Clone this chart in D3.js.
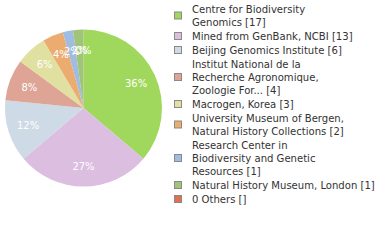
<!DOCTYPE html>
<html>
<head>
<meta charset="utf-8">
<script src="https://cdn.jsdelivr.net/npm/d3@7"></script>
<style>
  body { margin: 0; background: #fff; }
  text { font-family: "DejaVu Sans Condensed", "DejaVu Sans", sans-serif; }
</style>
</head>
<body>
<script>
var names = [
  "Centre for Biodiversity Genomics",
  "Mined from GenBank, NCBI",
  "Beijing Genomics Institute",
  "Institut National de la Recherche Agronomique, Zoologie For...",
  "Macrogen, Korea",
  "University Museum of Bergen, Natural History Collections",
  "Research Center in Biodiversity and Genetic Resources",
  "Natural History Museum, London",
  "0 Others"
];
var counts = [17, 13, 6, 4, 3, 2, 1, 1, 0];
var countLabels = ["17", "13", "6", "4", "3", "2", "1", "1", ""];
var colors = ["#9fd85c", "#dcbee0", "#cedae6", "#dea496", "#e0e0a0",
              "#ecac70", "#a0bce0", "#a0c478", "#e07050"];

var width = 380, height = 240;
var cx = 83.5, cy = 108, r = 78.5;

var svg = d3.select("body").append("svg").attr("width", width).attr("height", height);

var total = d3.sum(counts);
var pie = d3.pie().sort(null).value(d => d)(counts);
var arc = d3.arc().innerRadius(0).outerRadius(r);
var labelArc = d3.arc().innerRadius(58).outerRadius(58);

var g = svg.append("g").attr("transform", "translate(" + cx + "," + cy + ")");
g.selectAll("path").data(pie).enter().append("path")
  .attr("d", arc)
  .attr("fill", (d, i) => colors[i]);

g.selectAll("text").data(pie).enter().append("text")
  .attr("transform", d => "translate(" + labelArc.centroid(d) + ")")
  .attr("text-anchor", "middle")
  .attr("dy", "0.35em")
  .attr("fill", "#fff")
  .style("font-family", "'DejaVu Sans', sans-serif")
  .style("font-size", "10px")
  .text(d => Math.floor(100 * d.value / total) + "%");

// legend: wrap names at 30 chars, count appended to last line
function wrap(s) {
  var words = s.split(" "), lines = [], cur = "";
  words.forEach(function (w) {
    if (cur && (cur + " " + w).length > 30) { lines.push(cur); cur = w; }
    else cur = cur ? cur + " " + w : w;
  });
  lines.push(cur);
  return lines;
}

var lineH = 13, gap = 1;
var y = 9;
var leg = svg.append("g");
names.forEach(function (n, i) {
  var lines = wrap(n);
  lines[lines.length - 1] += " [" + countLabels[i] + "]";
  var mid = y + (lines.length - 1) * lineH / 2;
  leg.append("rect")
    .attr("x", 174.5).attr("y", mid - 3.5)
    .attr("width", 7).attr("height", 7)
    .attr("fill", colors[i])
    .attr("stroke", "#8a8a8a").attr("stroke-width", 1);
  lines.forEach(function (l, k) {
    leg.append("text")
      .attr("x", 192).attr("y", y + k * lineH)
      .attr("dy", "0.35em")
      .attr("fill", "#333")
      .style("font-size", "11.2px")
      .text(l);
  });
  y += lines.length * lineH + gap;
});
</script>
</body>
</html>
